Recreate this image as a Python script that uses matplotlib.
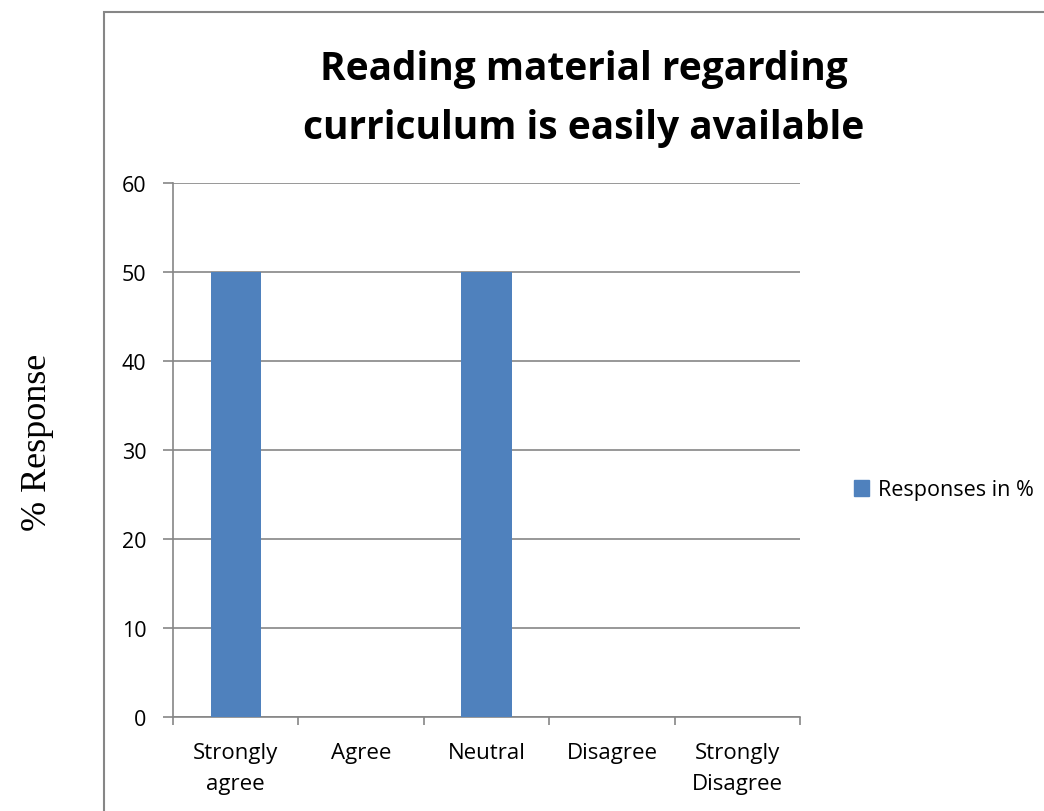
import matplotlib
matplotlib.use("Agg")
import matplotlib.pyplot as plt
from matplotlib.patches import Rectangle, Patch
import numpy as np

categories = ["Strongly\nagree", "Agree", "Neutral", "Disagree", "Strongly\nDisagree"]
values = [50, 0, 50, 0, 0]
series_name = "Responses in %"
title = "Reading material regarding\ncurriculum is easily available"
ylabel = "% Response"
yticks = [0, 10, 20, 30, 40, 50, 60]

W, H = 1044, 812
fig = plt.figure(figsize=(W / 100, H / 100), dpi=100)
font = ["Open Sans", "DejaVu Sans"]
grey = "#868686"
bar_color = "#4F81BD"

# outer chart frame
fig.patches.append(Rectangle((103.5 / W, -0.1), 2.0, 1 - 12.5 / H + 0.1,
                             transform=fig.transFigure, fill=False,
                             edgecolor=grey, linewidth=1.5))

ax = fig.add_axes([173 / W, 1 - 718 / H, (800 - 173) / W, (718 - 184) / H])
x = np.arange(len(categories))
ax.bar(x, values, width=0.4, color=bar_color, zorder=3)
ax.set_xlim(-0.5, len(categories) - 0.5)
ax.set_ylim(0, 60)
ax.set_yticks(yticks)
ax.set_yticklabels([str(v) for v in yticks], family=font, fontsize=15.5)
ax.yaxis.grid(True, color=grey, linewidth=1.2, zorder=0)
ax.set_axisbelow(True)
ax.set_xticks(x)
ax.set_xticklabels(categories, family=font, fontsize=16, linespacing=1.6)
ax.set_xticks(np.arange(len(categories) + 1) - 0.5, minor=True)
ax.tick_params(axis="x", which="major", length=0, pad=18)
ax.tick_params(axis="x", which="minor", length=6, color=grey, width=1.2)
ax.tick_params(axis="y", length=7, color=grey, width=1.2, pad=12)
for s in ["top", "right"]:
    ax.spines[s].set_visible(False)
for s in ["left", "bottom"]:
    ax.spines[s].set_color(grey)
    ax.spines[s].set_linewidth(1.2)

fig.text(584 / W, 1 - 99 / H, title, ha="center", va="center",
         family=font, fontsize=28, fontweight="bold", linespacing=1.65)
fig.text(38 / W, 1 - 442 / H, ylabel, rotation=90, ha="center", va="center",
         family=["Liberation Serif", "DejaVu Serif"], fontsize=26)

leg = fig.legend(handles=[Patch(color=bar_color, label=series_name)],
                 loc="center left", bbox_to_anchor=(835 / W, 1 - 491 / H),
                 frameon=False, prop={"family": font, "size": 15.5},
                 handlelength=0.7, handleheight=0.7, handletextpad=0.4)

fig.savefig("out.png", dpi=100, facecolor="white")
